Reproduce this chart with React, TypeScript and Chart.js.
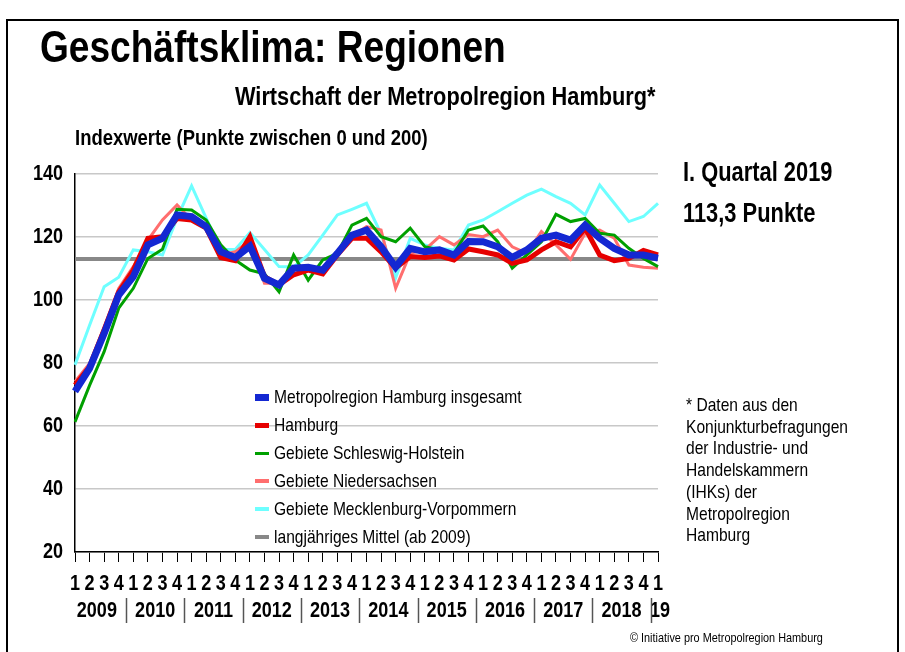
import React, { useEffect, useRef } from "react";
import { Chart, registerables } from "chart.js";

Chart.register(...registerables);

const FONT = "'Liberation Sans', Arial, sans-serif";
const NARROW = 0.82;

const quarterLabels = [
  "1", "2", "3", "4", "1", "2", "3", "4", "1", "2", "3", "4", "1", "2", "3", "4",
  "1", "2", "3", "4", "1", "2", "3", "4", "1", "2", "3", "4", "1", "2", "3", "4",
  "1", "2", "3", "4", "1", "2", "3", "4", "1",
];
const yearLabels = ["2009", "2010", "2011", "2012", "2013", "2014", "2015", "2016", "2017", "2018", "19"];

const metropolregion = [
  71, 78.3, 89.4, 101.6, 107.4, 117.5, 119.6, 127, 126.5, 123.3, 115.3, 113.5, 117.1, 106.9, 104.8,
  110.1, 110.4, 109.5, 114.8, 120.6, 122.2, 116.9, 110.4, 116.4, 115.3, 115.9, 114.3, 118.6, 118.5,
  116.9, 113.5, 115.9, 119.6, 120.6, 119.0, 123.8, 119.6, 116.4, 114.3, 114.3, 113.3,
];
const hamburg = [
  73, 78.8, 90.5, 102.6, 109.5, 119.6, 120.1, 125.9, 125.4, 122.8, 113.5, 112.5, 120.1, 107.4, 104.8,
  108, 109.5, 108.3, 114.3, 119.6, 119.6, 115.3, 110.1, 113.8, 113.5, 114, 112.7, 116.2, 115.3,
  114.3, 111.6, 112.7, 115.9, 118.5, 116.9, 122.8, 114.3, 112.5, 113.2, 115.7, 114.3,
];
const schleswigHolstein = [
  61.3, 72.9, 83.6, 97.4, 103.7, 113.2, 116.1, 128.8, 128.6, 125.4, 117.5, 112.7, 109.5, 108.3, 102.6,
  114.3, 106.3, 112.7, 114.8, 123.8, 125.9, 120.1, 118.5, 122.8, 116.9, 115.9, 114.8, 122.2, 123.5,
  118.5, 110.1, 114.3, 118.5, 127.2, 124.9, 125.9, 121.2, 120.6, 116.4, 113.2, 110.6,
];
const niedersachsen = [
  74.1, 79.9, 91.5, 103.7, 110.6, 119, 125.4, 130.2, 125.4, 123.3, 114.3, 115.3, 119, 105.3, 105.3,
  110, 110.6, 109.5, 114.3, 120.1, 123.3, 122.2, 103.7, 114.8, 115.9, 120.1, 117.5, 120.8, 120.1,
  122.2, 116.9, 114.8, 121.7, 117.5, 112.9, 121.2, 122.2, 119.6, 111.1, 110.4, 110.1,
];
const mecklenburgVorpommern = [
  79.4, 92, 104.2, 107.2, 115.9, 115.3, 114.3, 126, 136.2, 126, 116, 116, 121.4, 116, 110.6,
  110.5, 114.3, 120.6, 127, 128.8, 130.7, 121, 107, 119.6, 117.5, 116.4, 115.9, 123.8, 125.4,
  128, 130.7, 133.3, 135.2, 132.8, 130.7, 127, 136.5, 130.7, 124.9, 126.5, 130.7,
];
const langjaehrigesMittel = 113;

const legendItems = [
  { label: "Metropolregion Hamburg insgesamt", color: "rgb(20,40,210)", h: 7 },
  { label: "Hamburg", color: "rgb(230,0,0)", h: 5 },
  { label: "Gebiete Schleswig-Holstein", color: "rgb(0,160,0)", h: 3 },
  { label: "Gebiete Niedersachsen", color: "rgb(255,110,110)", h: 4 },
  { label: "Gebiete Mecklenburg-Vorpommern", color: "rgb(110,255,255)", h: 4 },
  { label: "langjähriges Mittel (ab 2009)", color: "rgb(136,136,136)", h: 4 },
];

const footnoteLines = [
  "* Daten aus den",
  "Konjunkturbefragungen",
  "der Industrie- und",
  "Handelskammern",
  "(IHKs) der",
  "Metropolregion",
  "Hamburg",
];

function drawNarrow(ctx: CanvasRenderingContext2D, text: string, x: number, y: number, align: CanvasTextAlign) {
  ctx.save();
  ctx.translate(x, y);
  ctx.scale(NARROW, 1);
  ctx.textAlign = align;
  ctx.textBaseline = "middle";
  ctx.fillText(text, 0, 0);
  ctx.restore();
}

export default function App() {
  const canvasRef = useRef<HTMLCanvasElement | null>(null);

  useEffect(() => {
    const canvas = canvasRef.current;
    if (!canvas) return;

    const meanLinePlugin = {
      id: "meanLine",
      beforeDatasetsDraw(chart: any) {
        const { ctx, chartArea, scales } = chart;
        const y = scales.y.getPixelForValue(langjaehrigesMittel);
        ctx.save();
        ctx.strokeStyle = "rgb(136,136,136)";
        ctx.lineWidth = 4;
        ctx.beginPath();
        ctx.moveTo(chartArea.left, y);
        ctx.lineTo(chartArea.right, y);
        ctx.stroke();
        ctx.restore();
      },
    };

    const labelPlugin = {
      id: "narrowLabels",
      afterDraw(chart: any) {
        const { ctx, chartArea, scales } = chart;
        const xs = scales.x;
        const ys = scales.y;
        const base = chartArea.bottom;
        ctx.save();
        ctx.fillStyle = "#000";
        ctx.font = `bold 22px ${FONT}`;
        ys.ticks.forEach((t: any, i: number) => {
          drawNarrow(ctx, String(t.value), ys.right - 12, ys.getPixelForTick(i), "right");
        });
        xs.ticks.forEach((t: any, i: number) => {
          const lbl = quarterLabels[t.value] ?? String(t.label);
          drawNarrow(ctx, lbl, xs.getPixelForTick(i), base + 32, "center");
        });
        yearLabels.forEach((yl, k) => {
          const px = k < 10 ? xs.getPixelForValue(4 * k + 1.5) : xs.getPixelForValue(40) + 2;
          drawNarrow(ctx, yl, px, base + 59, "center");
        });
        ctx.strokeStyle = "#555";
        ctx.lineWidth = 1.5;
        for (let k = 0; k < 10; k++) {
          const px = Math.round(xs.getPixelForValue(4 * k + 3.5)) + 0.5;
          ctx.beginPath();
          ctx.moveTo(px, base + 46);
          ctx.lineTo(px, base + 71);
          ctx.stroke();
        }
        ctx.restore();
      },
    };

    const chart = new Chart(canvas, {
      type: "line",
      data: {
        labels: quarterLabels,
        datasets: [
          { label: legendItems[0].label, data: metropolregion, borderColor: legendItems[0].color, borderWidth: 7 },
          { label: legendItems[1].label, data: hamburg, borderColor: legendItems[1].color, borderWidth: 5 },
          { label: legendItems[2].label, data: schleswigHolstein, borderColor: legendItems[2].color, borderWidth: 3 },
          { label: legendItems[3].label, data: niedersachsen, borderColor: legendItems[3].color, borderWidth: 3 },
          { label: legendItems[4].label, data: mecklenburgVorpommern, borderColor: legendItems[4].color, borderWidth: 3 },
        ],
      },
      options: {
        responsive: false,
        animation: false,
        devicePixelRatio: 1,
        elements: { point: { radius: 0, hoverRadius: 0 }, line: { tension: 0, fill: false } },
        layout: { padding: { top: 174, right: 247, bottom: 0, left: 0 } },
        plugins: { legend: { display: false }, tooltip: { enabled: false }, title: { display: false } },
        scales: {
          x: {
            type: "category",
            offset: false,
            afterFit(scale: any) {
              scale.height = 100;
            },
            grid: { drawOnChartArea: false, drawTicks: true, tickLength: 10, color: "#000", lineWidth: 1 },
            border: { color: "#000", width: 1.5 },
            ticks: { display: false, autoSkip: false, maxRotation: 0, minRotation: 0 },
          },
          y: {
            min: 20,
            max: 140,
            afterFit(scale: any) {
              scale.width = 75;
            },
            grid: { drawTicks: false, color: "rgb(200,200,200)", lineWidth: 1.5 },
            border: { color: "#000", width: 1.5 },
            ticks: { display: false, stepSize: 20 },
          },
        },
      },
      plugins: [meanLinePlugin, labelPlugin],
    });

    return () => chart.destroy();
  }, []);

  const abs = (o: React.CSSProperties, sx: number = NARROW): React.CSSProperties => ({
    position: "absolute",
    whiteSpace: "nowrap",
    transform: `scaleX(${sx})`,
    transformOrigin: "0 0",
    ...o,
  });

  return (
    <div style={{ position: "fixed", left: 0, top: 0, width: 905, height: 652, overflow: "hidden", background: "#fff", fontFamily: FONT, color: "#000" }}>
      <div style={{ position: "absolute", left: 6, top: 19, width: 893, height: 700, border: "2px solid #000", boxSizing: "border-box" }} />
      <canvas ref={canvasRef} width={905} height={652} style={{ position: "absolute", left: 0, top: 0, width: 905, height: 652 }} />
      <div style={abs({ left: 40, top: 24, fontSize: 45, lineHeight: "45px", fontWeight: "bold" }, 0.824)}>Geschäftsklima: Regionen</div>
      <div style={abs({ left: 235, top: 83, fontSize: 26, lineHeight: "26px", fontWeight: "bold" }, 0.837)}>Wirtschaft der Metropolregion Hamburg*</div>
      <div style={abs({ left: 75, top: 127, fontSize: 22.5, lineHeight: "22.5px", fontWeight: "bold" })}>Indexwerte (Punkte zwischen 0 und 200)</div>
      <div style={abs({ left: 683, top: 159, fontSize: 27, lineHeight: "27px", fontWeight: "bold" }, 0.81)}>I. Quartal 2019</div>
      <div style={abs({ left: 683, top: 200, fontSize: 27, lineHeight: "27px", fontWeight: "bold" }, 0.81)}>113,3 Punkte</div>
      <div style={{ position: "absolute", left: 255, top: 383 }}>
        {legendItems.map((it) => (
          <div key={it.label} style={{ display: "flex", alignItems: "center", height: 28, fontSize: 19, whiteSpace: "nowrap" }}>
            <span style={{ display: "inline-block", width: 14, height: it.h, background: it.color, marginRight: 5, flex: "none" }} />
            <span style={{ display: "inline-block", transform: `scaleX(${NARROW})`, transformOrigin: "0 50%" }}>{it.label}</span>
          </div>
        ))}
      </div>
      <div style={abs({ left: 686, top: 394, fontSize: 19, lineHeight: "21.7px" })}>
        {footnoteLines.map((l) => (
          <div key={l}>{l}</div>
        ))}
      </div>
      <div style={abs({ left: 630, top: 631, fontSize: 13, lineHeight: "14px" }, 0.836)}>© Initiative pro Metropolregion Hamburg</div>
    </div>
  );
}
